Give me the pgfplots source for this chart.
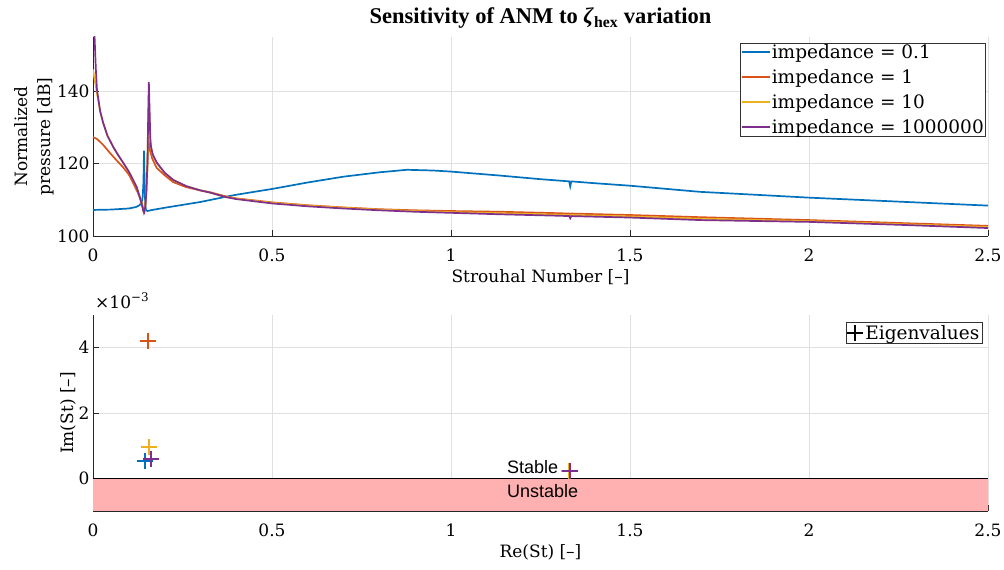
\documentclass[border=0pt]{standalone}
\usepackage{fontspec}
\setmainfont{DejaVu Serif}
\newfontfamily\titlefont{Liberation Serif}
\newfontfamily\arialfont{Liberation Sans}
\usepackage{pgfplots}
\pgfplotsset{compat=1.18}
\definecolor{mblue}{rgb}{0,0.447,0.741}
\definecolor{morange}{rgb}{0.85,0.325,0.098}
\definecolor{myellow}{rgb}{0.929,0.694,0.125}
\definecolor{mpurple}{rgb}{0.494,0.184,0.556}
\definecolor{stabred}{rgb}{1,0.69,0.69}
\pgfplotsset{
  myaxis/.style={
    scale only axis, width=895pt,
    xmin=0, xmax=2.5,
    xtick={0,0.5,1,1.5,2,2.5},
    axis lines*=left,
    axis line style={black!85, line width=0.8pt},
    tick align=inside,
    major tick length=6pt,
    tick style={black!85, line width=0.8pt},
    grid=major,
    grid style={black!12, line width=0.8pt},
    font=\fontsize{17}{20}\selectfont,
    tick label style={font=\fontsize{17}{20}\selectfont},
    /pgf/number format/assume math mode=true,
    /pgf/number format/fixed,
    xticklabel style={yshift=-9pt},
    xlabel style={yshift=-1pt},
  }
}
\begin{document}
\begin{tikzpicture}
\path[use as bounding box] (0pt,0pt) rectangle (1004pt,570pt);
\begin{axis}[myaxis,
  at={(93pt,334pt)}, anchor=south west, height=199pt,
  ymin=100, ymax=155, ytick={100,120,140},
  xlabel={Strouhal Number [–]},
  ylabel={Normalized\\pressure [dB]},
  ylabel style={align=center, yshift=-4pt, font=\fontsize{17}{23}\selectfont},
  title={\titlefont\bfseries\fontsize{22.5}{25}\selectfont Sensitivity of ANM to \textit{ζ}\textsubscript{hex} variation},
  title style={yshift=-1pt},
  legend style={at={(rel axis cs:0.998,0.97)}, anchor=north east, draw=black!80, line width=0.8pt, inner sep=1pt, row sep=9.5pt, font=\fontsize{18.5}{20}\selectfont, fill=white},
  legend cell align=left,
  legend image code/.code={\draw[#1, line width=1.8pt] (0pt,0pt) -- (28pt,0pt);},
  legend style={nodes={inner xsep=1pt, inner ysep=0pt}},
]
\addplot[mblue, line width=1.7pt] coordinates {
(0,107.2)(0.05,107.3)(0.1,107.6)(0.12,108)(0.13,108.5)(0.136,109.3)(0.139,111)(0.141,115)(0.1425,123.6)(0.144,115)(0.146,108.5)(0.148,107.2)(0.152,106.9)(0.16,107.1)(0.2,107.8)(0.25,108.6)(0.3,109.4)(0.369,110.8)(0.4,111.4)(0.5,113)(0.6,114.8)(0.7,116.4)(0.8,117.6)(0.877,118.3)(0.95,118.1)(1.0,117.8)(1.137,116.7)(1.25,115.7)(1.33,115.1)(1.333,113.7)(1.336,115.1)(1.4,114.6)(1.5,113.9)(1.696,112.2)(1.85,111.4)(2.0,110.6)(2.25,109.5)(2.5,108.4)};
\addlegendentry{impedance = 0.1}
\addplot[morange, line width=1.7pt] coordinates {
(0,127.3)(0.01,126.9)(0.02,126)(0.03,125)(0.047,123)(0.065,121)(0.084,119)(0.1,117)(0.112,114.7)(0.125,112)(0.137,109)(0.142,106.6)(0.146,108)(0.15,115)(0.153,122)(0.156,125.8)(0.16,123.5)(0.165,121.5)(0.178,118.8)(0.2,116.8)(0.224,114.9)(0.26,113.5)(0.3,112.6)(0.327,112.1)(0.369,111)(0.4,110.4)(0.5,109.3)(0.6,108.5)(0.7,107.9)(0.8,107.4)(0.9,107.1)(1.0,106.9)(1.137,106.7)(1.3,106.3)(1.33,106.2)(1.333,105.4)(1.336,106.2)(1.5,105.8)(1.696,105.2)(2.0,104.4)(2.25,103.6)(2.5,102.8)};
\addlegendentry{impedance = 1}
\addplot[myellow, line width=1.7pt] coordinates {
(0,146)(0.005,143)(0.011,139.5)(0.02,134.4)(0.028,131.4)(0.04,127.8)(0.056,124.7)(0.07,122.4)(0.084,120.3)(0.1,117.8)(0.112,115.5)(0.122,113.5)(0.13,111)(0.136,108.8)(0.141,106.8)(0.143,106.6)(0.146,108)(0.149,112)(0.152,119)(0.154,130)(0.156,139)(0.158,133)(0.16,126.5)(0.162,124.5)(0.167,122.4)(0.178,120.2)(0.2,117.5)(0.224,115.5)(0.26,113.8)(0.3,112.6)(0.327,112)(0.369,110.8)(0.4,110.3)(0.5,109.2)(0.6,108.4)(0.7,107.8)(0.8,107.3)(0.9,106.9)(1.0,106.6)(1.137,106.3)(1.3,105.9)(1.33,105.8)(1.333,105.1)(1.336,105.8)(1.5,105.4)(1.696,104.8)(2.0,104.1)(2.25,103.3)(2.5,102.5)};
\addlegendentry{impedance = 10}
\addplot[mpurple, line width=1.7pt] coordinates {
(0,160)(0.004,156)(0.008,146)(0.011,140.5)(0.02,134.5)(0.028,131.4)(0.04,127.8)(0.056,124.7)(0.07,122.4)(0.084,120.3)(0.1,117.8)(0.112,115.5)(0.122,113.5)(0.13,111)(0.136,108.8)(0.141,106.8)(0.143,106.5)(0.146,108)(0.149,112)(0.152,120)(0.154,132)(0.156,142.5)(0.158,135)(0.16,127)(0.162,124.7)(0.167,122.5)(0.178,120.3)(0.2,117.5)(0.224,115.5)(0.26,113.8)(0.3,112.6)(0.327,112)(0.369,110.8)(0.4,110.2)(0.5,109.0)(0.6,108.2)(0.7,107.6)(0.8,107.1)(0.9,106.7)(1.0,106.4)(1.137,106.0)(1.3,105.6)(1.33,105.5)(1.333,104.9)(1.336,105.5)(1.5,105.1)(1.696,104.4)(2.0,103.9)(2.25,103.1)(2.5,102.2)};
\addlegendentry{impedance = 1000000}
\end{axis}
\begin{axis}[myaxis,
  at={(93pt,59pt)}, anchor=south west, height=196pt,
  ymin=-1, ymax=5, ytick={0,2,4},
  xlabel={Re(St) [–]},
  ylabel={Im(St) [–]},
  ylabel style={yshift=-4pt},
  clip=false,
  legend style={at={(rel axis cs:0.994,0.965)}, anchor=north east, draw=black!80, line width=0.8pt, inner sep=1pt, font=\fontsize{18.5}{20}\selectfont, fill=white},
  legend image code/.code={\draw[#1] plot coordinates {(10pt,0pt)};},
]
\addplot[fill=stabred, draw=none, forget plot] coordinates {(0,-1)(2.5,-1)(2.5,0)(0,0)(0,-1)};
\addplot[black, line width=1.2pt, forget plot] coordinates {(0,0)(2.5,0)};
\addlegendimage{only marks, black, mark=+, mark size=8pt, line width=2pt, mark options={line width=2pt}}
\addlegendentry{Eigenvalues}
\addplot[only marks, mblue, mark=+, mark size=8pt, mark options={line width=2pt}, forget plot] coordinates {(0.145,0.52)(1.33,0.21)};
\addplot[only marks, morange, mark=+, mark size=8pt, mark options={line width=2pt}, forget plot] coordinates {(0.154,4.2)(1.33,0.22)};
\addplot[only marks, myellow, mark=+, mark size=8pt, mark options={line width=2pt}, forget plot] coordinates {(0.157,0.97)(1.33,0.22)};
\addplot[only marks, mpurple, mark=+, mark size=8pt, mark options={line width=2pt}, forget plot] coordinates {(0.161,0.6)(1.333,0.21)};
\node[anchor=base west, inner sep=0pt, font=\arialfont\fontsize{18}{20}\selectfont] at (axis cs:1.156,0.15) {Stable};
\node[anchor=base west, inner sep=0pt, font=\arialfont\fontsize{18}{20}\selectfont] at (axis cs:1.156,-0.58) {Unstable};
\node[anchor=base west, inner sep=0pt, font=\fontsize{17}{20}\selectfont] at ([yshift=7pt,xshift=2pt]rel axis cs:0,1) {×10\textsuperscript{−3}};
\end{axis}
\end{tikzpicture}
\end{document}
